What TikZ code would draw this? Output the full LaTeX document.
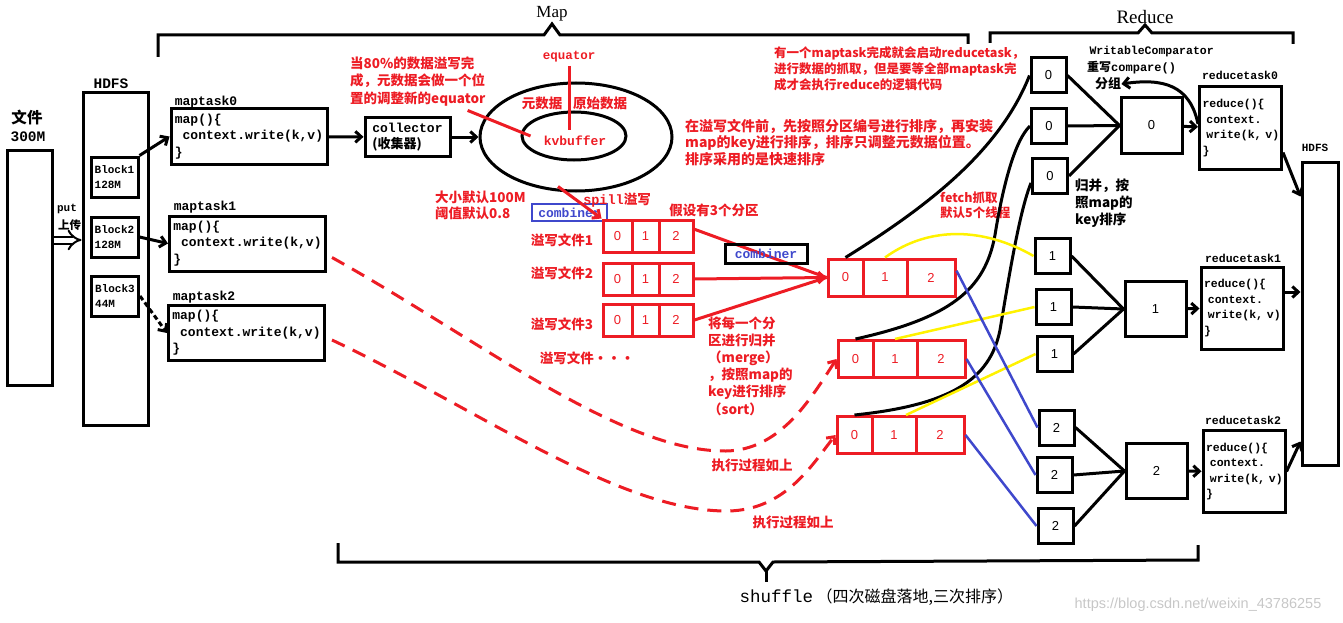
\documentclass[tikz,border=0pt]{standalone}
\usepackage{fontspec}
\setmainfont{Noto Sans CJK SC}
\setmonofont{Liberation Mono}
\newfontfamily\serifnum{Liberation Serif}
\newfontfamily\sansnum{Liberation Sans}
\usetikzlibrary{arrows.meta, positioning, calc, shapes.geometric}
\definecolor{pred}{HTML}{ED1C24}
\definecolor{pblue}{HTML}{3F48CC}
\definecolor{pyellow}{HTML}{FFF200}
\newcommand{\fsz}[2]{\fontsize{#1}{#2}\selectfont}
\newcommand{\redcode}{reduce()\{\\\ context.\\\mbox{\ write(k, v)}\\\}}
\tikzset{
  >={Straight Barb[length=6pt,width=11pt]},
  bx/.style={draw, line width=3pt, inner sep=0pt},
  codebox/.style={bx, minimum width=156, minimum height=55, align=left, inner sep=2pt,
    font=\ttfamily\bfseries\fsz{13}{16.5}},
  blkbox/.style={bx, minimum width=47, minimum height=40, align=left, inner sep=1pt,
    font=\ttfamily\bfseries\fsz{11}{15}},
  numbox/.style={bx, minimum width=35, minimum height=35, font=\sansnum\fsz{13}{13}},
  grpbox/.style={bx, minimum width=61, minimum height=55, font=\sansnum\fsz{13}{13}},
  rtbox/.style={bx, minimum height=82, text width=76, inner sep=3pt, align=left,
    font=\ttfamily\bfseries\fsz{11.5}{15.5}},
  rcell/.style={draw=pred, line width=3pt, inner sep=0pt, text=pred, font=\sansnum\fsz{13}{13}},
  lbl/.style={font=\ttfamily\bfseries\fsz{11.5}{13}},
  rtxt/.style={text=pred, font=\bfseries\fsz{13.5}{15}, inner sep=0pt},
  rnote/.style={text=pred, align=left, inner sep=0pt, anchor=west},
  blk/.style={line width=3pt},
  arr/.style={line width=3pt, ->},
  redln/.style={draw=pred, line width=3pt},
  redarr/.style={redln, ->},
  dashr/.style={redln, dash pattern=on 14pt off 9pt, ->},
  ylw/.style={draw=pyellow, line width=2.5pt},
  blu/.style={draw=pblue, line width=2.5pt},
  brace/.style={line width=3pt}
}
\begin{document}
\begin{tikzpicture}[x=1pt,y=-1pt]
\useasboundingbox (0,0) rectangle (1343,623);

% file and HDFS
\node[bx, minimum width=45, minimum height=235] (file) at (29.5,267.5) {};
\node[font=\bfseries\fsz{15.5}{18}] (filetxt) at (27,118) {文件};
\node[font=\ttfamily\bfseries\fsz{14.5}{16}] (filesize) at (28,137) {300M};
\node[bx, minimum width=65, minimum height=332] (hdfsL) at (115.5,259) {};
\node[font=\ttfamily\bfseries\fsz{14.5}{16}] (hdfsLtxt) at (111,84) {HDFS};
\node[font=\ttfamily\bfseries\fsz{11}{12}] (puttxt) at (67,209) {put};
\node[font=\bfseries\fsz{11.5}{13}] (uptxt) at (69.5,225) {上传};
\draw[line width=2pt, double, double distance=5pt, -{Implies}]
  ([yshift=27.5pt]file.east) -- ([yshift=27.5pt]file.east -| hdfsL.west);

\node[blkbox] (blk1) at (114.5,177) {Block1\\128M};
\node[blkbox] (blk2) at (114.5,237) {Block2\\128M};
\node[blkbox] (blk3) at (115,296) {Block3\\44M};

% map tasks
\node[codebox] (mt0) at (249,136.5) {map()\{\\\ context.write(k,v)\\\}};
\node[codebox] (mt1) at (247.5,243.5) {map()\{\\\ context.write(k,v)\\\}};
\node[codebox] (mt2) at (246.5,333) {map()\{\\\ context.write(k,v)\\\}};
\node[font=\ttfamily\bfseries\fsz{13}{14}] (mt0txt) at (206,102) {maptask0};
\node[font=\ttfamily\bfseries\fsz{13}{14}] (mt1txt) at (205,207) {maptask1};
\node[font=\ttfamily\bfseries\fsz{13}{14}] (mt2txt) at (204,297) {maptask2};
\draw[arr] (blk1.north east) -- (mt0.west);
\draw[arr] (blk2.east) -- (mt1.west);
\draw[arr, dash pattern=on 5pt off 3pt] (blk3.east) -- (mt2.west);

% collector and ring buffer
\node[bx, minimum width=85, minimum height=38, inner sep=2pt, align=left,
  font=\bfseries\fsz{13}{16.5}] (coll) at (407.5,137) {\texttt{collector}\\(收集器)};
\node[ellipse, draw, line width=3pt, minimum width=192, minimum height=108] (buf) at (576,137) {};
\node[ellipse, draw, line width=3pt, minimum width=104, minimum height=48] (kvb) at (574,136) {};
\draw[arr] (mt0) -- (coll);
\draw[arr] (coll) -- (buf.west);
\node[text=pred, font=\ttfamily\bfseries\fsz{13}{15}] (kvtxt) at (575,141) {kvbuffer};
\node[text=pred, font=\ttfamily\bfseries\fsz{12.5}{14}] (eq) at (569,57) {equator};
\coordinate (eqbot) at (569,130);
\draw[redln] (eq.south) -- (eqbot);
\node[rtxt] (meta) at (542,103) {元数据};
\node[rtxt] (raw) at (600,103) {原始数据};

\node[rnote, font=\bfseries\fsz{13.5}{17.5}] (note1) at (350,81.5)
  {当80\%的数据溢写完\\成，元数据会做一个位\\置的调整新的equator};
\draw[redln] ($(note1.south east)+(-18,4)$) -- ([xshift=10pt]kvb.west);
\node[rnote, font=\bfseries\fsz{13.5}{16}] (note2) at (435,205) {大小默认100M\\阈值默认0.8};

% spill files
\node[draw=pblue, line width=2.5pt, minimum width=75, minimum height=17, inner sep=0pt,
  text=pblue, font=\ttfamily\bfseries\fsz{13}{13}] (comb1) at (569.5,212.5) {combiner};
\node[rtxt] (spilltxt) at (617,200) {\texttt{spill}溢写};
\node[rtxt] (parts) at (714,210) {假设有3个分区};
\foreach \i/\y in {1/236,2/279,3/320}{
  \node[rcell, minimum width=29, minimum height=32] (s\i-0) at (617.5,\y) {0};
  \node[rcell, minimum width=27, minimum height=32] (s\i-1) at (645.5,\y) {1};
  \node[rcell, minimum width=34, minimum height=32] (s\i-2) at (676,\y) {2};
}
\draw[redarr] ([xshift=-18pt,yshift=6pt]buf.south) -- (s1-0.north west);
\node[rtxt] (sf1) at (562,240) {溢写文件1};
\node[rtxt] (sf2) at (562,273) {溢写文件2};
\node[rtxt] (sf3) at (562,324) {溢写文件3};
\node[rtxt] (sfx) at (587,358) {溢写文件···};

% merged map outputs
\foreach \j/\x/\y in {1/828/277.5,2/838/359,3/837/435}{
  \node[rcell, minimum width=35, minimum height=37] (m\j-0) at (\x+17.5,\y) {0};
  \node[rcell, minimum width=44, minimum height=37] (m\j-1) at (\x+57,\y) {1};
  \node[rcell, minimum width=48, minimum height=37] (m\j-2) at (\x+103,\y) {2};
}
\draw[redln] (s1-2.20) -- (m1-0.west);
\draw[redarr] (s2-2.east) -- (m1-0.west);
\draw[redln] (s3-2.east) -- (m1-0.west);
\node[bx, minimum width=82, minimum height=19, text=pblue, font=\ttfamily\bfseries\fsz{13}{13}] (comb2) at (766,253.5) {combiner};
\node[rnote, font=\bfseries\fsz{13.5}{17.2}] (note3) at (708,366)
  {将每一个分\\区进行归并\\（merge）\\，按照map的\\key进行排序\\（sort）};

\draw[dashr] ($(mt1.east)+(5,14)$) .. controls (480,340) and (620,452) .. (726,451)
  .. controls (780,450) and (810,400) .. (m2-0.west);
\draw[dashr] ($(mt2.east)+(6,7)$) .. controls (480,410) and (620,512) .. (728,511)
  .. controls (785,510) and (812,465) .. (m3-0.west);
\node[rtxt] (same1) at (752,465) {执行过程如上};
\node[rtxt] (same2) at (793,522) {执行过程如上};

\node[rnote, font=\bfseries\fsz{12.5}{16}] (note4) at (774,69)
  {有一个maptask完成就会启动reducetask，\\进行数据的抓取，但是要等全部maptask完\\成才会执行reduce的逻辑代码};
\node[rnote, font=\bfseries\fsz{14}{16.5}] (note5) at (685,142.5)
  {在溢写文件前，先按照分区编号进行排序，再安装\\map的key进行排序，排序只调整元数据位置。\\排序采用的是快速排序};
\node[rnote, font=\bfseries\fsz{12.5}{15}] (fetch) at (940,205.5) {fetch抓取\\默认5个线程};

% reduce side
\foreach \nm/\t/\x/\y in {r0a/0/1048.5/75.5, r0b/0/1049/126, r0c/0/1050/176,
    r1a/1/1052.5/256, r1b/1/1053.5/307, r1c/1/1054.5/354,
    r2a/2/1056.5/427.5, r2b/2/1054.5/475, r2c/2/1055.5/526}
  \node[numbox] (\nm) at (\x,\y) {\t};
\node[grpbox] (g0) at (1151.5,125.5) {0};
\node[grpbox] (g1) at (1155.5,309) {1};
\node[grpbox] (g2) at (1156.5,471) {2};
\foreach \s in {r0a,r0b,r0c} \draw[blk] (\s.east) -- (g0.west);
\foreach \s in {r1a,r1b,r1c} \draw[blk] (\s.east) -- (g1.west);
\foreach \s in {r2a,r2b,r2c} \draw[blk] (\s.east) -- (g2.west);

\draw[blk] (m1-0.north) .. controls (930,205) and (1000,150) .. (r0a.west);
\draw[blk] (m2-0.north) .. controls (950,318) and (985,290) .. (995,235)
  .. controls (1003,185) and (1015,140) .. (r0b.west);
\draw[blk] (m3-0.north) .. controls (950,405) and (990,380) .. (1000,330)
  .. controls (1010,270) and (1020,210) .. (r0c.200);
\draw[ylw] (m1-1.north) .. controls (930,225) and (985,228) .. (r1a.west);
\draw[ylw] (m2-1.north) -- (r1b.west);
\draw[ylw] ($(m3-1.north)+(12,0)$) -- (r1c.west);
\draw[blu] (m1-2.15) -- (r2a.west);
\draw[blu] (m2-2.east) -- (r2b.west);
\draw[blu] (m3-2.east) -- (r2c.west);

\node[rtbox] (rt0) at (1240.5,128) {\redcode};
\node[rtbox] (rt1) at (1242,308) {\redcode};
\node[rtbox] (rt2) at (1244,471.5) {\redcode};
\node[lbl] (rt0txt) at (1240,75) {reducetask0};
\node[lbl] (rt1txt) at (1243,258) {reducetask1};
\node[lbl] (rt2txt) at (1243,420) {reducetask2};
\draw[arr] (g0) -- (rt0);
\draw[arr] (g1) -- (rt1);
\draw[arr] (g2) -- (rt2);

\node[bx, minimum width=36, minimum height=303] (hdfsR) at (1320,313.5) {};
\node[font=\ttfamily\bfseries\fsz{11}{12}] (hdfsRtxt) at (1315,148) {HDFS};
\draw[arr] (rt0.-30) -- ($(hdfsR.north west)+(0,36)$);
\draw[arr] ([yshift=16pt]rt1.east) -- ([yshift=16pt]rt1.east -| hdfsR.west);
\draw[arr] (rt2.east) -- ($(hdfsR.south west)+(0,-25)$);

\node[lbl, anchor=west] (wrc) at (1086,52) {WritableComparator};
\node[anchor=west, inner sep=0pt, font=\bfseries\fsz{12}{14}] (cmp) at (1087,68) {重写\texttt{compare()}};
\node[anchor=west, inner sep=0pt, font=\bfseries\fsz{13}{14}] (grp) at (1095,84) {分组};
\draw[arr] ([yshift=4pt]rt0.west) .. controls (1190,85) and (1163,78) .. (grp.east);
\node[anchor=west, inner sep=0pt, align=left, font=\bfseries\fsz{13.5}{17}] (mergenote) at (1075,203.5)
  {归并，按\\照map的\\key排序};

% braces and titles
\draw[brace] (158,57) -- (158,35) -- (544,35) -- (552,24) -- (560,35) -- (968,35) -- (968,44);
\draw[brace] (990,43) -- (990,33) -- (1138,33) -- (1145,25) -- (1152,33) -- (1293,33) -- (1293,44);
\draw[brace] (338,543) -- (338,562) -- (759,562) -- (766,571) -- (773,562) -- (1198,560) -- (1198,545);
\draw[brace] (766,571) -- (766,582);
\node[font=\serifnum\fsz{17}{18}] (maptitle) at (552,14) {Map};
\node[font=\serifnum\fsz{19}{20}] (redtitle) at (1145,17) {Reduce};
\node[anchor=west, font=\fsz{16}{18}] (shuf) at (736,597)
  {{\ttfamily\fontsize{17.5}{18}\selectfont shuffle} （四次磁盘落地,三次排序）};
\node[text=black!22, font=\sansnum\fsz{14.5}{16}] (wm) at (1198,605) {https://blog.csdn.net/weixin\_43786255};
\end{tikzpicture}
\end{document}
